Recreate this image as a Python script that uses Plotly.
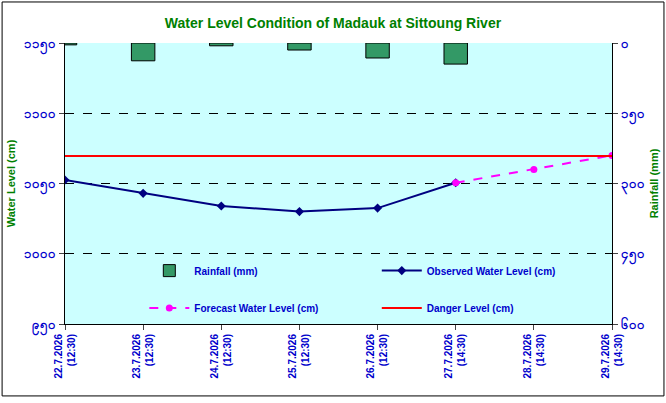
import plotly.graph_objects as go

dates = ["22.7.2026<br>(12:30)", "23.7.2026<br>(12:30)", "24.7.2026<br>(12:30)", "25.7.2026<br>(12:30)",
         "26.7.2026<br>(12:30)", "27.7.2026<br>(14:30)", "28.7.2026<br>(14:30)", "29.7.2026<br>(14:30)"]
rainfall = [4, 38, 6, 15, 32, 45]
observed = [1052.5, 1043, 1034, 1030, 1032.5, 1050.5]
forecast_idx = [5, 6, 7]
forecast = [1050.5, 1060, 1070]
danger = 1069.5

left_ticks = [950, 1000, 1050, 1100, 1150]
left_labels = ["၉၅၀", "၁၀၀၀", "၁၀၅၀", "၁၁၀၀", "၁၁၅၀"]
right_ticks = [0, 150, 300, 450, 600]
right_labels = ["၀", "၁၅၀", "၃၀၀", "၄၅၀", "၆၀၀"]

GREEN = "#008000"
BLUE = "#0000CC"
x = list(range(len(dates)))

fig = go.Figure()
fig.add_trace(go.Bar(x=x[:len(rainfall)], y=rainfall, yaxis="y2", width=0.3, name="<b>Rainfall (mm)</b>",
                     marker=dict(color="#339966", line=dict(color="black", width=1)),
                     legend="legend", showlegend=True))
fig.add_trace(go.Scatter(x=x[:len(observed)], y=observed, mode="lines+markers", name="<b>Observed Water Level (cm)</b>",
                         line=dict(color="#000080", width=2), marker=dict(symbol="diamond", size=7), legend="legend2"))
fig.add_trace(go.Scatter(x=forecast_idx, y=forecast, mode="lines+markers", name="<b>Forecast Water Level (cm)</b>",
                         line=dict(color="#FF00FF", width=2, dash="dash"), marker=dict(size=7), legend="legend3"))
fig.add_trace(go.Scatter(x=[x[0], x[-1]], y=[danger, danger], mode="lines", name="<b>Danger Level (cm)</b>",
                         line=dict(color="#FF0000", width=2), legend="legend4"))

tickfont = dict(family="Arial", size=13, color=BLUE)
legfont = dict(family="Arial", size=10, color=BLUE)


def leg(xp, yp):
    return dict(x=xp, y=yp, xanchor="left", yanchor="middle", bgcolor="rgba(0,0,0,0)",
                font=legfont, itemwidth=40)


fig.update_layout(
    width=666, height=403,
    showlegend=True,
    margin=dict(l=65, r=54, t=43, b=79),
    paper_bgcolor="white", plot_bgcolor="#CCFFFF",
    title=dict(text="<b>Water Level Condition of Madauk at Sittoung River</b>", x=0.5, y=0.955,
               xanchor="center", font=dict(family="Arial", size=14, color=GREEN)),
    font=dict(family="Arial"),
    xaxis=dict(range=[0, 7], tickvals=x, ticktext=["<b>" + d + "</b>" for d in dates], tickangle=-90,
               showgrid=False, automargin=False,
               tickfont=dict(family="Arial", size=10, color=BLUE), showline=True, linecolor="black",
               ticks="outside"),
    yaxis=dict(range=[950, 1150], tickvals=left_ticks, ticktext=["<b>" + t + "</b>" for t in left_labels],
               tickfont=tickfont,
               automargin=False, showline=True, linecolor="black", ticks="outside", gridcolor="black",
               griddash="dash", gridwidth=1, zeroline=False,
               title=dict(text="<b>Water Level (cm)</b>", standoff=6, font=dict(size=11, color=GREEN))),
    yaxis2=dict(range=[600, 0], overlaying="y", side="right", tickvals=right_ticks,
                ticktext=["<b>" + t + "</b>" for t in right_labels],
                automargin=False, tickfont=tickfont, showline=True, linecolor="black", ticks="outside",
                showgrid=False, zeroline=False,
                title=dict(text="<b>Rainfall (mm)</b>", standoff=6, font=dict(size=11, color=GREEN))),
    legend=leg(0.145, 0.19),
    legend2=leg(0.57, 0.19),
    legend3=leg(0.145, 0.057),
    legend4=leg(0.57, 0.057),
    shapes=[dict(type="rect", xref="paper", yref="paper", x0=-0.115, y0=-0.256, x1=1.095, y1=1.146,
                 line=dict(color="black", width=1))],
)
fig.write_html("out.html", config={"displayModeBar": False},
               post_script="document.body.style.margin='0';")
